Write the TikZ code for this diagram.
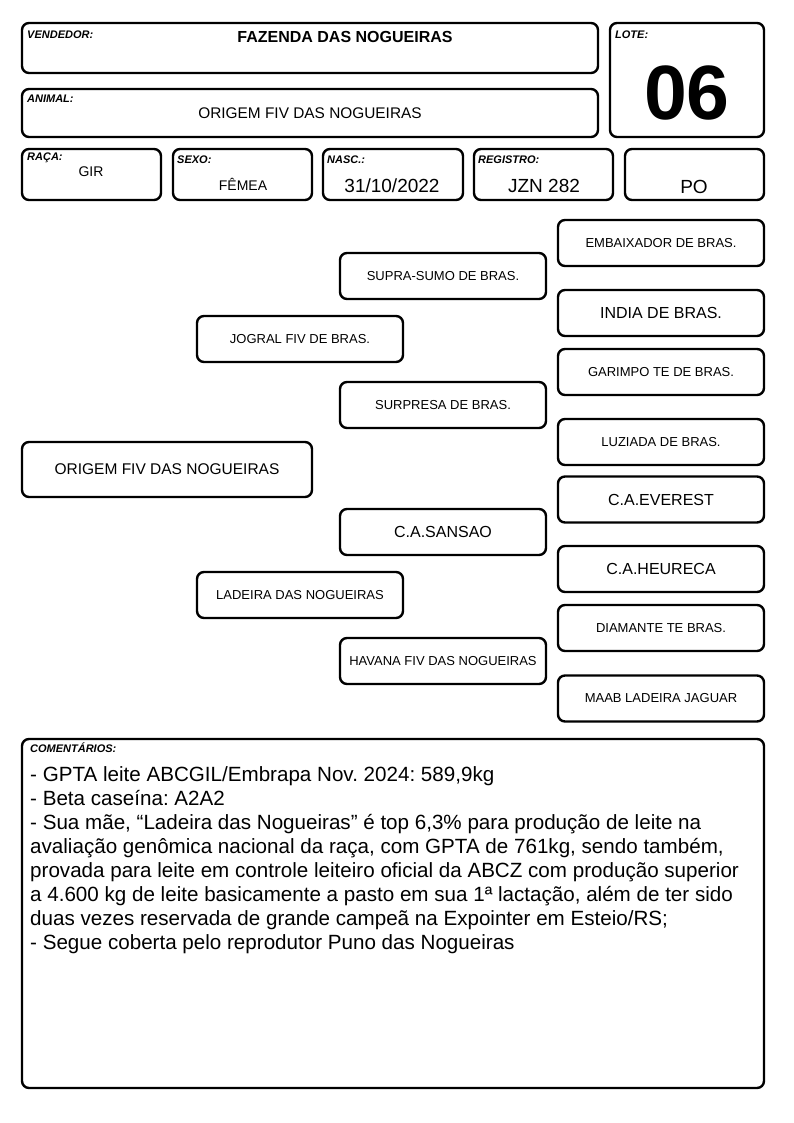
\documentclass[tikz,border=0pt]{standalone}
\usepackage{fontspec}
\setmainfont{Liberation Sans}
\usetikzlibrary{positioning}
\frenchspacing

\begin{document}
\begin{tikzpicture}[x=1pt, y=-1pt,
  box/.style={rectangle, draw, line width=2.4pt, rounded corners=7pt, inner sep=0pt, text centered},
  ped/.style={box, minimum width=206pt, minimum height=46pt, font=\fontsize{13}{15}\selectfont},
  pedbig/.style={ped, font=\fontsize{16}{18}\selectfont},
  tag/.style={anchor=west, inner sep=0pt, font=\fontsize{11}{12}\selectfont\bfseries\itshape},
  val/.style={inner sep=0pt, font=\fontsize{19}{21}\selectfont}
]
\useasboundingbox (0,0) rectangle (794,1123);

% cabecalho
\node[box, minimum width=576pt, minimum height=50pt] (vend) at (310,48) {};
\node[box, minimum width=154pt, minimum height=114pt] (lote) at (687,80) {};
\node[box, minimum width=576pt, minimum height=48pt] (animal) at (310,113) {};
\node[box, minimum width=139pt, minimum height=51pt] (raca) at (91.5,174.5) {};
\node[box, minimum width=139pt, minimum height=51pt] (sexo) at (242.5,174.5) {};
\node[box, minimum width=140pt, minimum height=51pt] (nasc) at (393,174.5) {};
\node[box, minimum width=139pt, minimum height=51pt] (reg) at (543.5,174.5) {};
\node[box, minimum width=139pt, minimum height=51pt] (po) at (694.5,174.5) {};

\node[tag] (vendtag) at (27,35) {VENDEDOR:};
\node[tag] (lotetag) at (615,35) {LOTE:};
\node[tag] (animaltag) at (27,99) {ANIMAL:};
\node[tag] (racatag) at (27,158) {RAÇA:};
\node[tag] (sexotag) at (177,160) {SEXO:};
\node[tag] (nasctag) at (327,160) {NASC.:};
\node[tag] (regtag) at (478,160) {REGISTRO:};

\node[val, font=\fontsize{16}{18}\selectfont\bfseries] (vendval) at (345,37) {FAZENDA DAS NOGUEIRAS};
\node[val, font=\fontsize{77}{80}\selectfont\bfseries] (loteval) at (687,93) {06};
\node[val, font=\fontsize{15.4}{18}\selectfont] (animalval) at (310,113) {ORIGEM FIV DAS NOGUEIRAS};
\node[val, font=\fontsize{14}{16}\selectfont] (racaval) at (91,172) {GIR};
\node[val, font=\fontsize{14}{16}\selectfont] (sexoval) at (243,184) {FÊMEA};
\node[val] (nascval) at (392,186) {31/10/2022};
\node[val] (regval) at (544,186) {JZN 282};
\node[val] (poval) at (694,187) {PO};

% genealogia
\node[box, minimum width=290pt, minimum height=55pt, font=\fontsize{15.5}{18}\selectfont] (origem) at (167,469.5) {ORIGEM FIV DAS NOGUEIRAS};
\node[ped] (jogral) at (300,339) {JOGRAL FIV DE BRAS.};
\node[ped] (ladeira) at (300,595) {LADEIRA DAS NOGUEIRAS};
\node[ped] (supra) at (443,276) {SUPRA-SUMO DE BRAS.};
\node[ped] (surpresa) at (443,405) {SURPRESA DE BRAS.};
\node[pedbig] (sansao) at (443,532) {C.A.SANSAO};
\node[ped] (havana) at (443,661) {HAVANA FIV DAS NOGUEIRAS};
\node[ped] (embaixador) at (661,243) {EMBAIXADOR DE BRAS.};
\node[pedbig] (india) at (661,313) {INDIA DE BRAS.};
\node[ped] (garimpo) at (661,372) {GARIMPO TE DE BRAS.};
\node[ped] (luziada) at (661,442) {LUZIADA DE BRAS.};
\node[pedbig] (everest) at (661,499.5) {C.A.EVEREST};
\node[pedbig] (heureca) at (661,569) {C.A.HEURECA};
\node[ped] (diamante) at (661,628) {DIAMANTE TE BRAS.};
\node[ped] (maab) at (661,698.5) {MAAB LADEIRA JAGUAR};

% comentarios
\node[box, minimum width=742pt, minimum height=349pt] (coment) at (393,913.5) {};
\node[tag] (comenttag) at (30,748) {COMENTÁRIOS:};
\node[anchor=north west, inner sep=0pt, align=left, font=\fontsize{20.6}{24}\selectfont] (comenttxt) at (30,766) {%
- GPTA leite ABCGIL/Embrapa Nov. 2024: 589,9kg\\
- Beta caseína: A2A2\\
- Sua mãe, “Ladeira das Nogueiras” é top 6,3\% para produção de leite na\\
avaliação genômica nacional da raça, com GPTA de 761kg, sendo também,\\
provada para leite em controle leiteiro oficial da ABCZ com produção superior\\
a 4.600 kg de leite basicamente a pasto em sua 1ª lactação, além de ter sido\\
duas vezes reservada de grande campeã na Expointer em Esteio/RS;\\
- Segue coberta pelo reprodutor Puno das Nogueiras};
\end{tikzpicture}
\end{document}
